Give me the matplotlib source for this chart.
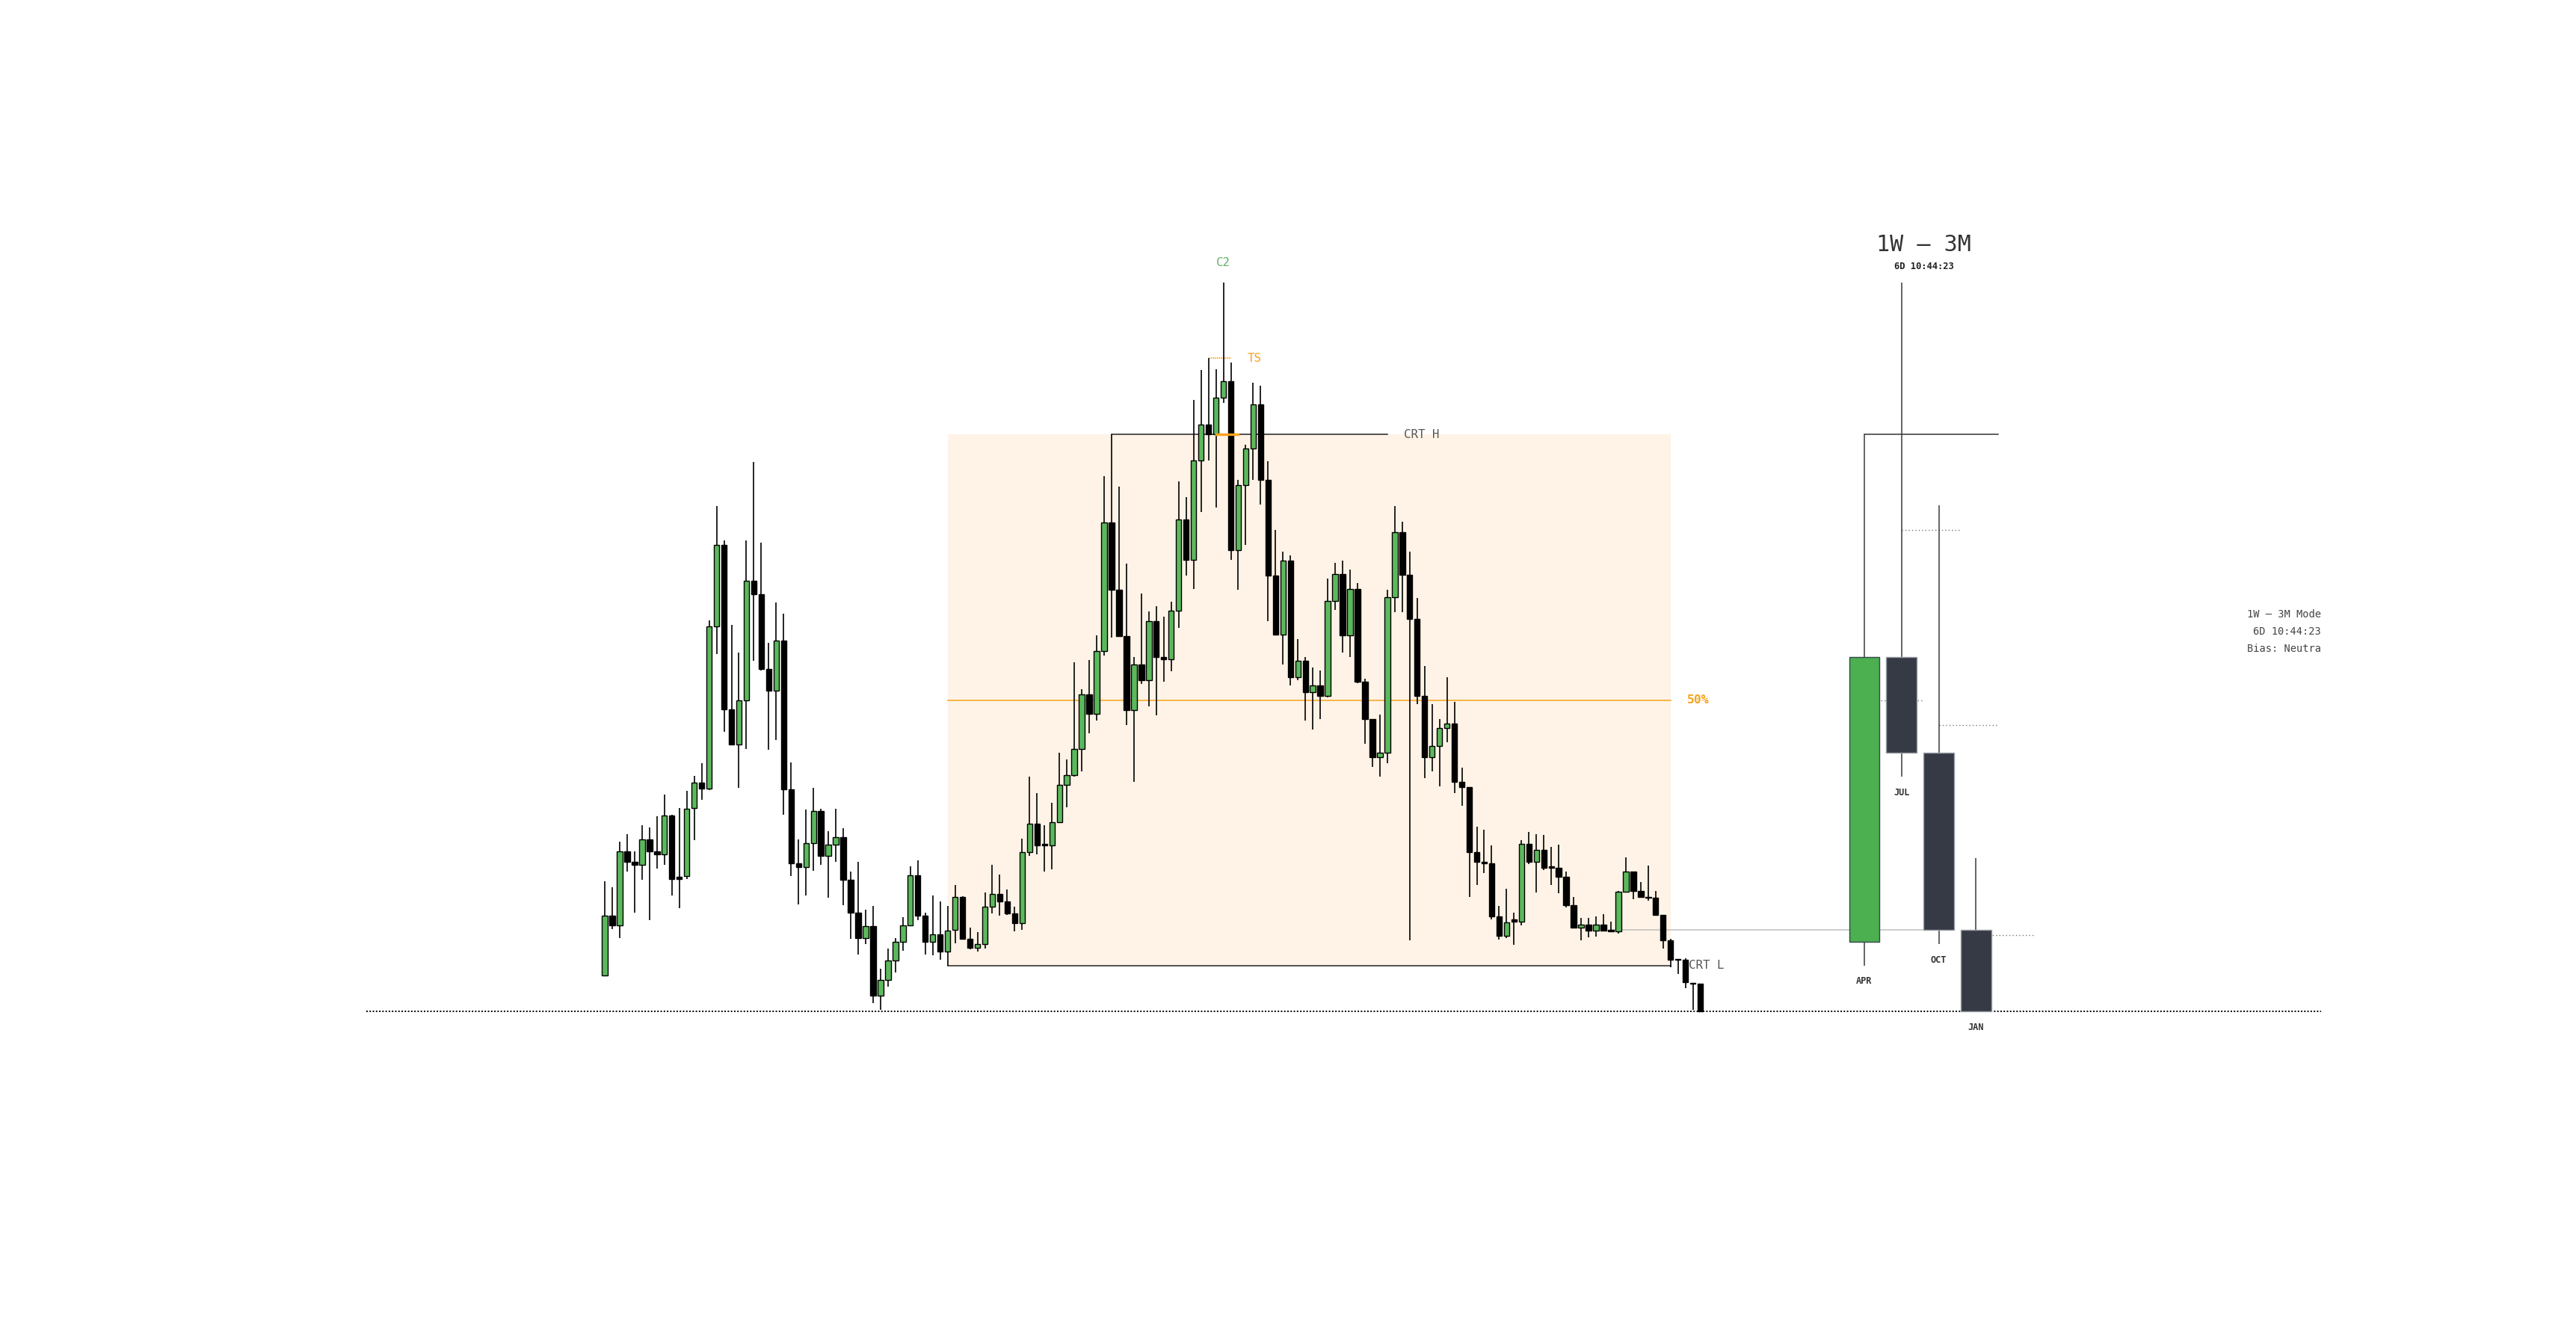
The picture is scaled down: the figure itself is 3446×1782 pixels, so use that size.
import numpy as np
import matplotlib
matplotlib.use('Agg')
import matplotlib.pyplot as plt
from matplotlib.patches import Rectangle

# ---- lower timeframe candles (oldest -> newest) ----
opens = [477, 557, 544, 643, 629, 625, 659, 643, 639, 691,
         609, 610, 701, 735, 727, 944, 1053, 833, 786, 845,
         1005, 987, 887, 858, 925, 726, 627, 622, 654, 697,
         637, 652, 662, 605, 561, 527, 543, 450, 471, 497,
         522, 544, 611, 557, 522, 532, 509, 538, 582, 526,
         514, 519, 569, 586, 576, 560, 547, 642, 680, 653,
         651, 682, 732, 745, 780, 853, 827, 911, 1083, 993,
         931, 832, 893, 872, 951, 903, 900, 965, 1087, 1033,
         1166, 1214, 1201, 1250, 1272, 1046, 1133, 1182, 1241, 1140,
         1012, 933, 1032, 876, 898, 856, 865, 851, 978, 1014,
         932, 994, 870, 820, 769, 775, 983, 1070, 1013, 954,
         851, 769, 784, 808, 814, 736, 729, 642, 629, 627,
         556, 530, 552, 549, 653, 629, 645, 623, 621, 609,
         571, 541, 545, 537, 545, 538, 536, 589, 616, 590,
         582, 581, 558, 524, 499, 498, 467, 466]
highs = [603, 595, 656, 666, 643, 678, 675, 690, 719, 692,
         701, 724, 744, 761, 952, 1105, 1059, 946, 909, 1059,
         1164, 1056, 922, 976, 961, 762, 659, 699, 728, 700,
         670, 700, 674, 616, 629, 565, 570, 486, 513, 527,
         555, 623, 631, 561, 584, 576, 570, 598, 583, 541,
         535, 588, 625, 612, 592, 569, 660, 743, 721, 678,
         708, 775, 766, 896, 860, 899, 932, 1145, 1201, 1131,
         1028, 903, 988, 964, 971, 957, 977, 1138, 1117, 1247,
         1287, 1303, 1288, 1404, 1297, 1140, 1187, 1270, 1266, 1165,
         1073, 1044, 1039, 927, 903, 889, 885, 1008, 1029, 1032,
         1020, 1002, 874, 820, 826, 993, 1105, 1084, 1044, 982,
         891, 840, 820, 876, 843, 755, 729, 676, 672, 651,
         570, 593, 561, 658, 669, 666, 665, 649, 652, 616,
         582, 554, 554, 556, 559, 549, 590, 635, 616, 602,
         624, 590, 558, 526, 499, 500, 467, 466]
lows = [476, 539, 527, 616, 561, 605, 551, 620, 625, 584,
        567, 606, 658, 712, 725, 907, 803, 785, 728, 780,
        898, 885, 779, 792, 692, 610, 572, 584, 617, 625,
        581, 629, 571, 526, 505, 519, 440, 431, 462, 481,
        510, 543, 551, 505, 504, 498, 490, 520, 525, 512,
        509, 513, 560, 557, 558, 536, 538, 637, 639, 616,
        619, 682, 702, 743, 750, 801, 818, 905, 929, 930,
        812, 736, 867, 837, 825, 870, 884, 942, 1012, 994,
        1097, 1166, 1103, 1243, 1033, 993, 1053, 1140, 1107, 951,
        932, 893, 865, 872, 818, 806, 820, 849, 966, 909,
        903, 868, 787, 756, 743, 761, 963, 963, 524, 840,
        741, 750, 730, 789, 721, 704, 582, 598, 614, 552,
        525, 527, 518, 544, 626, 588, 618, 598, 587, 568,
        540, 524, 528, 529, 537, 535, 533, 589, 579, 581,
        577, 558, 513, 488, 479, 460, 431, 428]
closes = [557, 544, 643, 629, 625, 659, 643, 639, 691, 606,
          606, 700, 735, 727, 944, 1053, 833, 786, 845, 1005,
          987, 887, 858, 925, 726, 627, 622, 654, 697, 637,
          652, 662, 605, 561, 527, 543, 450, 471, 497, 522,
          544, 611, 557, 522, 532, 509, 537, 582, 526, 514,
          519, 569, 586, 576, 560, 547, 642, 680, 651, 651,
          682, 732, 745, 780, 853, 827, 911, 1083, 993, 931,
          832, 893, 872, 951, 903, 900, 965, 1087, 1033, 1166,
          1214, 1201, 1250, 1272, 1046, 1133, 1182, 1241, 1140, 1012,
          933, 1032, 876, 898, 856, 865, 851, 978, 1014, 932,
          994, 870, 820, 769, 775, 983, 1070, 1013, 954, 851,
          769, 784, 808, 814, 736, 729, 642, 629, 627, 556,
          530, 548, 549, 653, 629, 645, 621, 621, 609, 571,
          541, 545, 537, 545, 537, 536, 589, 616, 590, 582,
          581, 558, 524, 498, 498, 468, 466, 429]

# ---- higher timeframe (3M) candles ----
htf_months = ['APR', 'JUL', 'OCT', 'JAN']
htf_open = [522, 903, 775, 538]
htf_high = [1201, 1404, 1106, 634]
htf_low = [490, 743, 519, 429]
htf_close = [903, 775, 538, 429]

crt_high = 1201
crt_low = 490
ts_level = 1303
c2_high = 1404
last_price = 429

title = '1W – 3M'
countdown = '6D 10:44:23'
info_lines = ['1W – 3M Model', '6D 10:44:23', 'Bias: Neutral']

GREEN = '#5cb85c'
HTF_GREEN = '#4caf50'
HTF_DARK = '#363a45'
ORANGE = '#f7a21b'
BOX = '#fef3e6'
MONO = 'DejaVu Sans Mono'

fig = plt.figure(figsize=(3446 / 200, 1782 / 200), dpi=200)
fig.patch.set_facecolor('white')
ax = fig.add_axes([490 / 3446, 0, (3105 - 490) / 3446, 1])
ax.set_xlim(-32.0, 230.29)
ax.set_ylim(0, 1782)
ax.axis('off')

o = np.array(opens, float)
h = np.array(highs, float)
l = np.array(lows, float)
c = np.array(closes, float)
x = np.arange(len(o))
up = c > o

# CRT range box (from the candle that printed the low to the break)
box_start, box_end = 46, 143
hi_start, hi_end = 68, 105
ax.add_patch(Rectangle((box_start, crt_low), box_end - box_start, crt_high - crt_low,
                       facecolor=BOX, edgecolor='none', zorder=1))
mid = (crt_high + crt_low) / 2
ax.plot([box_start, box_end], [mid, mid], color=ORANGE, lw=0.55, zorder=2)
ax.plot([box_start, box_end], [crt_low, crt_low], color='#333333', lw=0.6, zorder=2)
ax.plot([hi_start, hi_end], [crt_high, crt_high], color='#333333', lw=0.6, zorder=2)

# turtle soup marks
ax.plot([81, 84], [ts_level, ts_level], color=ORANGE, lw=0.6, ls=(0, (1, 0.6)), zorder=2)
ax.plot([82, 85], [crt_high, crt_high], color=ORANGE, lw=1.2, zorder=5)

# last price level
ax.axhline(last_price, color='black', lw=0.7, ls=(0, (1, 1.2)), zorder=2)

# candles
body_lo = np.minimum(o, c)
body_h = np.maximum(np.abs(c - o), 1.5)
ax.vlines(x, l, h, color='black', lw=0.6, zorder=3)
ax.bar(x[up], body_h[up], 0.74, bottom=body_lo[up], color=GREEN,
       edgecolor='black', linewidth=0.5, zorder=4)
ax.bar(x[~up], body_h[~up], 0.74, bottom=body_lo[~up], color='black',
       edgecolor='black', linewidth=0.5, zorder=4)

# labels in the main chart
ax.text(83, c2_high + 27, 'C2', color='#66b366', fontsize=5.7, family=MONO,
        ha='center', va='center', zorder=6)
ax.text(86.2, ts_level, 'TS', color=ORANGE, fontsize=5.7, family=MONO,
        ha='left', va='center', zorder=6)
ax.text(107.2, crt_high, 'CRT H', color='#555555', fontsize=5.7, family=MONO,
        ha='left', va='center', zorder=6)
ax.text(145.2, mid, '50%', color=ORANGE, fontsize=5.9, family=MONO,
        fontweight='bold', ha='left', va='center', zorder=6)
ax.text(145.4, crt_low, 'CRT L', color='#555555', fontsize=5.7, family=MONO,
        ha='left', va='center', zorder=6)

# ---- higher timeframe panel ----
hx = 169 + 5 * np.arange(len(htf_months))
ho = np.array(htf_open, float)
hh = np.array(htf_high, float)
hl = np.array(htf_low, float)
hc = np.array(htf_close, float)
hup = hc > ho

# OCT close / JAN open level carried from the JAN open
ax.plot([135, hx[2]], [htf_close[2], htf_close[2]], color='#c0c0c0', lw=0.55, zorder=2)
# APR high bracket
ax.plot([hx[0], hx[0] + 18], [htf_high[0], htf_high[0]], color='#333333', lw=0.55, zorder=3)
# mid levels of each 3M candle
for k in range(len(hx)):
    m = (hh[k] + hl[k]) / 2
    ax.plot([hx[k], hx[k] + 8], [m, m], color='#777777', lw=0.5,
            ls=(0, (1, 2.2)), zorder=2)

ax.vlines(hx, hl, hh, color=['#3b3b3b' if u else HTF_DARK for u in hup], lw=0.55, zorder=3)
ax.bar(hx, np.abs(hc - ho), 4.1, bottom=np.minimum(ho, hc),
       color=[HTF_GREEN if u else HTF_DARK for u in hup],
       edgecolor=['#37474f' if u else '#9a9ea6' for u in hup], linewidth=0.5, zorder=4)
for k, name in enumerate(htf_months):
    ax.text(hx[k], hl[k] - 21, name, ha='center', va='center', fontsize=4.3,
            fontweight='bold', color='#333333', family=MONO, zorder=6)

ax.text(177, 1454, title, ha='center', va='center', fontsize=10.8,
        color='#333333', family=MONO)
ax.text(177, 1426, countdown, ha='center', va='center', fontsize=4.35,
        fontweight='bold', color='#222222', family=MONO)

for k, line in enumerate(info_lines):
    ax.text(225.7, 959.5 - 22.6 * k, line, ha='center', va='center', fontsize=4.9,
            color='#444444', family=MONO, clip_on=True)

fig.savefig('out.png', dpi=200, facecolor='white')
